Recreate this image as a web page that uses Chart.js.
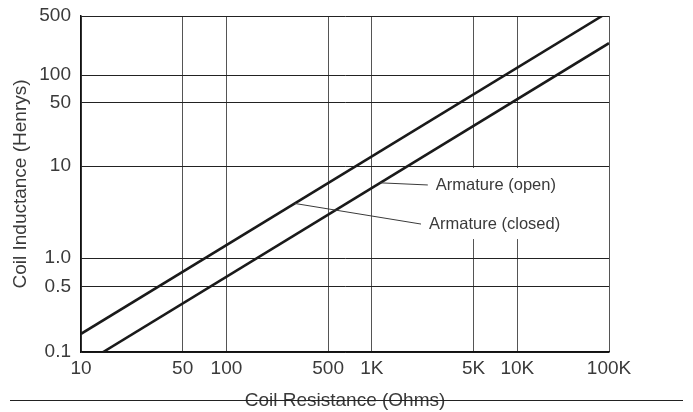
<!DOCTYPE html>
<html>
<head>
<meta charset="utf-8">
<script src="https://cdn.jsdelivr.net/npm/chart.js@4.4.1/dist/chart.umd.min.js"></script>
<style>
  html, body { margin: 0; padding: 0; background: #fff; }
  #wrap { width: 693px; height: 412px; }
</style>
</head>
<body>
<div id="wrap"><canvas id="coilChart"></canvas></div>
<script>
// resistance axis (ohms)
const xTicks = [10, 50, 100, 500, 1000, 5000, 10000, 100000];
const xTickLabels = ['10', '50', '100', '500', '1K', '5K', '10K', '100K'];
// inductance axis (henrys)
const yTicks = [0.1, 0.5, 1, 10, 50, 100, 500];
const yTickLabels = ['0.1', '0.5', '1.0', '10', '50', '100', '500'];

// line end points: [ohms, henrys]
const closedLine = [[10, 0.156], [84000, 500]];
const openLine = [[14.2, 0.1], [100000, 239]];

const seriesNames = ['Armature (closed)', 'Armature (open)'];
// where each name points on its line (ohms) and where the text sits
const labelPointX = [295, 1140];
const labelTextX = [2470, 2750];
const labelTextY = [2.35, 6.25];

const fontFamily = '"Liberation Sans", Arial, Helvetica, sans-serif';
const inkText = '#3a3a3a';
const inkLine = '#1a1a1a';

// log scale whose decades need not all be the same length (the printed chart squeezes the last one)
class DecadeLogScale extends Chart.LogarithmicScale {
    decadeSegments() {
        const w = Array.isArray(this.options.decadeWeights) ? this.options.decadeWeights : [];
        const lo = Math.log10(this.min), hi = Math.log10(this.max);
        const segs = [];
        let a = lo, i = 0;
        while (a < hi - 1e-9) {
            const b = Math.min(Math.floor(a + 1e-9) + 1, hi);
            segs.push({ a: a, b: b, w: (b - a) * (w[i] !== undefined ? w[i] : 1) });
            a = b;
            i++;
        }
        return segs;
    }
    getPixelForValue(value) {
        if (value === undefined || value === 0) value = this.min;
        const segs = this.decadeSegments();
        const total = segs.reduce((s, g) => s + g.w, 0);
        const l = Math.log10(value);
        let acc = 0;
        for (let i = 0; i < segs.length; i++) {
            const g = segs[i];
            if (l <= g.b || i === segs.length - 1) {
                acc += (l - g.a) / (g.b - g.a) * g.w;
                break;
            }
            acc += g.w;
        }
        return this.getPixelForDecimal(acc / total);
    }
}
DecadeLogScale.id = 'decadeLog';
DecadeLogScale.defaults = Object.assign({}, Chart.LogarithmicScale.defaults);
Chart.register(DecadeLogScale);

const toPoints = (arr) => arr.map(([x, y]) => ({ x: x, y: y }));

function labelBoxes(chart) {
    const ctx = chart.ctx;
    const xs = chart.scales.x, ys = chart.scales.y;
    ctx.save();
    ctx.font = '16.5px ' + fontFamily;
    const boxes = seriesNames.map((name, i) => {
        const tx = xs.getPixelForValue(labelTextX[i]);
        const ty = ys.getPixelForValue(labelTextY[i]);
        return { name: name, tx: tx, ty: ty, w: ctx.measureText(name).width };
    });
    ctx.restore();
    return boxes;
}

const calloutPlugin = {
    id: 'callouts',
    beforeDatasetsDraw(chart) {
        // white panel behind the names: the 5K / 10K grid lines break there
        const ctx = chart.ctx;
        const boxes = labelBoxes(chart);
        const left = Math.min(...boxes.map(b => b.tx)) - 3;
        const right = Math.max(...boxes.map(b => b.tx + b.w)) + 3;
        const top = Math.min(...boxes.map(b => b.ty)) - 17;
        const bottom = Math.max(...boxes.map(b => b.ty)) + 15;
        ctx.save();
        ctx.fillStyle = '#fff';
        ctx.fillRect(left, top, right - left, bottom - top);
        ctx.restore();
    },
    afterDatasetsDraw(chart) {
        const ctx = chart.ctx;
        const xs = chart.scales.x;
        const boxes = labelBoxes(chart);
        ctx.save();
        boxes.forEach((b, i) => {
            const pts = chart.getDatasetMeta(i).data;
            const p0 = pts[0], p1 = pts[pts.length - 1];
            const sx = xs.getPixelForValue(labelPointX[i]);
            const sy = p0.y + (sx - p0.x) * (p1.y - p0.y) / (p1.x - p0.x);
            ctx.strokeStyle = inkText;
            ctx.lineWidth = 1;
            ctx.beginPath();
            ctx.moveTo(sx, sy);
            ctx.lineTo(b.tx - 8, b.ty);
            ctx.stroke();
            ctx.fillStyle = inkText;
            ctx.font = '16.5px ' + fontFamily;
            ctx.textAlign = 'left';
            ctx.textBaseline = 'middle';
            ctx.fillText(b.name, b.tx, b.ty);
        });
        ctx.restore();
    },
    afterDraw(chart) {
        // rule running through the x axis title
        const ctx = chart.ctx;
        const y = Math.round(chart.height - 12) + 0.5;
        ctx.save();
        ctx.strokeStyle = '#222';
        ctx.lineWidth = 1;
        ctx.beginPath();
        ctx.moveTo(10, y);
        ctx.lineTo(chart.width - 10, y);
        ctx.stroke();
        ctx.restore();
    }
};

const ctx = document.getElementById('coilChart').getContext('2d');

const coilChart = new Chart(ctx, {
    type: 'line',
    data: {
        datasets: [
            {
                label: seriesNames[0],
                data: toPoints(closedLine),
                borderColor: inkLine,
                borderWidth: 2.6,
                pointRadius: 0,
                fill: false,
                tension: 0,
            },
            {
                label: seriesNames[1],
                data: toPoints(openLine),
                borderColor: inkLine,
                borderWidth: 2.6,
                pointRadius: 0,
                fill: false,
                tension: 0,
            },
        ],
    },
    options: {
        responsive: true,
        maintainAspectRatio: false,
        animation: false,
        events: [],
        layout: { padding: { left: 0, right: 84, top: 16, bottom: 0 } },
        plugins: {
            legend: { display: false },
            tooltip: { enabled: false },
        },
        scales: {
            x: {
                type: 'decadeLog',
                min: 10,
                max: 100000,
                decadeWeights: [1, 1, 1, 0.63],
                afterBuildTicks: (s) => { s.ticks = xTicks.map((v) => ({ value: v })); },
                afterFit: (s) => { s.height = 60; s.paddingLeft = 0; s.paddingRight = 0; },
                grid: { color: '#555', lineWidth: 1, drawTicks: false },
                border: { display: true, color: '#111', width: 1.5 },
                ticks: {
                    autoSkip: false,
                    maxRotation: 0,
                    padding: 5,
                    color: inkText,
                    font: { family: fontFamily, size: 19 },
                    callback: (v, i) => xTickLabels[i],
                },
                title: {
                    display: true,
                    text: 'Coil Resistance (Ohms)',
                    color: inkText,
                    font: { family: fontFamily, size: 19 },
                    padding: { top: 0, bottom: 0 },
                },
            },
            y: {
                type: 'decadeLog',
                min: 0.1,
                max: 500,
                decadeWeights: [1.02, 1, 0.99, 0.92],
                afterBuildTicks: (s) => { s.ticks = yTicks.map((v) => ({ value: v })); },
                afterFit: (s) => { s.width = 81; s.paddingTop = 0; s.paddingBottom = 0; },
                grid: { color: '#222', lineWidth: 1, drawTicks: false },
                border: { display: true, color: '#111', width: 1.5 },
                ticks: {
                    autoSkip: false,
                    padding: 10,
                    color: inkText,
                    font: { family: fontFamily, size: 19 },
                    callback: (v, i) => yTickLabels[i],
                },
                title: {
                    display: true,
                    text: 'Coil Inductance (Henrys)',
                    color: inkText,
                    font: { family: fontFamily, size: 19 },
                    padding: { top: 9, bottom: 0 },
                },
            },
        },
    },
    plugins: [calloutPlugin],
});
</script>
</body>
</html>
